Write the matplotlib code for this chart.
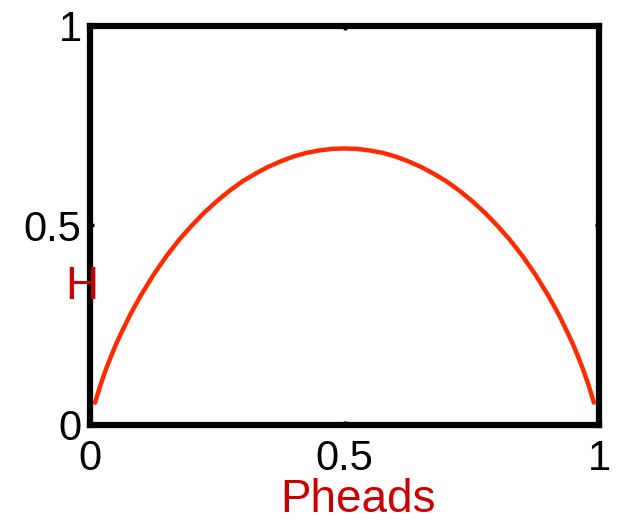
import matplotlib
matplotlib.use("Agg")
import matplotlib.pyplot as plt

# binary entropy of a coin, in nats
pheads = [0.01, 0.02, 0.03, 0.04, 0.05, 0.06, 0.08, 0.10, 0.125, 0.15, 0.175,
          0.20, 0.225, 0.25, 0.275, 0.30, 0.325, 0.35, 0.375, 0.40, 0.425,
          0.45, 0.475, 0.50, 0.525, 0.55, 0.575, 0.60, 0.625, 0.65, 0.675,
          0.70, 0.725, 0.75, 0.775, 0.80, 0.825, 0.85, 0.875, 0.90, 0.92,
          0.94, 0.95, 0.96, 0.97, 0.98, 0.99]
H = [0.056, 0.098, 0.135, 0.168, 0.199, 0.227, 0.279, 0.325, 0.377, 0.423,
     0.464, 0.500, 0.533, 0.562, 0.588, 0.611, 0.630, 0.647, 0.661, 0.673,
     0.682, 0.688, 0.692, 0.693, 0.692, 0.688, 0.682, 0.673, 0.661, 0.647,
     0.630, 0.611, 0.588, 0.562, 0.533, 0.500, 0.464, 0.423, 0.377, 0.325,
     0.279, 0.227, 0.199, 0.168, 0.135, 0.098, 0.056]

ticks = [0, 0.5, 1]
tick_labels = ["0", "0.5", "1"]

plt.rcParams["font.family"] = ["Liberation Sans", "DejaVu Sans"]

fig = plt.figure(figsize=(6.18, 5.21), dpi=100)
ax = fig.add_axes([90 / 618, 1 - 425 / 521, 509 / 618, 399 / 521])

ax.plot(pheads, H, color="#ff2a00", lw=3.2, solid_capstyle="round")

ax.set_xlim(0, 1)
ax.set_ylim(0, 1)
ax.set_xticks(ticks)
ax.set_xticklabels(tick_labels)
ax.set_yticks(ticks)
ax.set_yticklabels(tick_labels)
ax.tick_params(direction="in", length=3, width=2.5, labelsize=30,
               top=True, right=True)
ax.tick_params(axis="x", pad=10)
ax.tick_params(axis="y", pad=6)
for s in ax.spines.values():
    s.set_linewidth(4.5)

fig.text(82 / 618, 1 - 287 / 521, "H", color="#cc0000", fontsize=33,
         ha="center", va="center")
fig.text(358 / 618, 1 - 500 / 521, "Pheads", color="#cc0000", fontsize=33,
         ha="center", va="center")

fig.savefig("out.png", dpi=100)
